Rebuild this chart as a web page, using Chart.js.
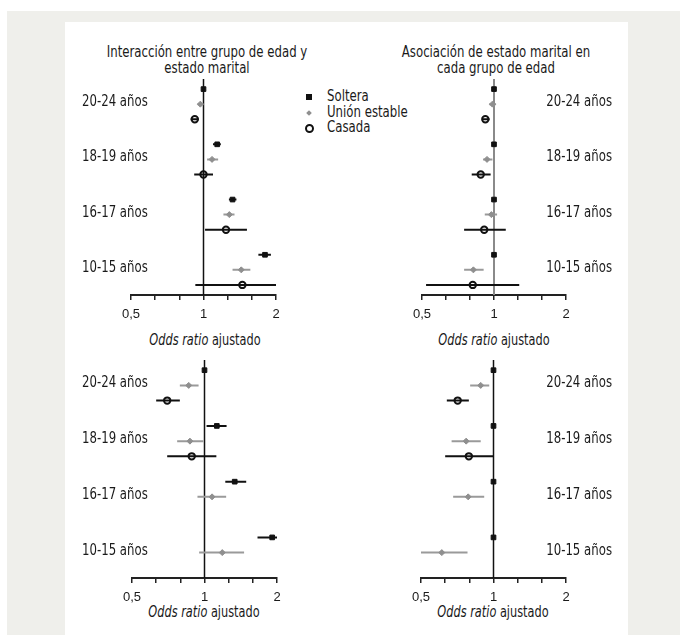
<!DOCTYPE html>
<html>
<head>
<meta charset="utf-8">
<script src="https://cdn.jsdelivr.net/npm/chart.js@4.4.1/dist/chart.umd.min.js"></script>
<style>
html, body { margin: 0; padding: 0; }
body { width: 680px; height: 635px; position: relative; overflow: hidden; background: #fff;
       font-family: 'DejaVu Sans Condensed', 'Liberation Sans Narrow', sans-serif; color: #1a1a1a; }
#outer { position: absolute; left: 7px; top: 11px; right: 0; bottom: 0; background: #efefeb; }
#panel { position: absolute; left: 65px; top: 22px; width: 563px; bottom: 0; background: #fff; }
canvas { position: absolute; left: 0; top: 0; }
.t { position: absolute; font-size: 15px; line-height: 16px; text-align: center; white-space: nowrap;
     transform: translateX(-50%) scaleX(0.87); }
.ax { transform: translateX(-50%) scaleX(0.84); }
#legend { position: absolute; left: 303px; top: 89px; font-size: 15px; line-height: 15.5px; }
#legend div { position: relative; padding-left: 24px; white-space: nowrap; }
#legend b { font-weight: normal; display: inline-block; transform: scaleX(0.87); transform-origin: left center; }
#legend span { position: absolute; }
.sq { left: 3px; top: 5px; width: 6px; height: 6px; background: #111; }
.dm { left: 4px; top: 6px; width: 4px; height: 4px; background: #8f8f8f; transform: rotate(45deg); }
.ci { left: 2px; top: 4px; width: 5px; height: 5px; border: 2px solid #111; border-radius: 50%; }
</style>
</head>
<body>
<div id="outer"></div>
<div id="panel"></div>
<div class="t" style="left:207px;top:44px">Interacción entre grupo de edad y<br>estado marital</div>
<div class="t" style="left:496px;top:44px">Asociación de estado marital en<br>cada grupo de edad</div>
<div class="t ax" style="left:205px;top:332px"><i>Odds ratio</i> ajustado</div>
<div class="t ax" style="left:494px;top:332px"><i>Odds ratio</i> ajustado</div>
<div class="t ax" style="left:204px;top:604px"><i>Odds ratio</i> ajustado</div>
<div class="t ax" style="left:493px;top:604px"><i>Odds ratio</i> ajustado</div>
<div id="legend">
  <div><span class="sq"></span><b>Soltera</b></div>
  <div><span class="dm"></span><b>Unión estable</b></div>
  <div><span class="ci"></span><b>Casada</b></div>
</div>
<canvas id="c1" width="680" height="635"></canvas>
<canvas id="c2" width="680" height="635"></canvas>
<canvas id="c3" width="680" height="635"></canvas>
<canvas id="c4" width="680" height="635"></canvas>
<script>
const groups = ['20-24 años', '18-19 años', '16-17 años', '10-15 años'];
const series = ['Soltera', 'Unión estable', 'Casada'];
const tickValues = [0.5, 1, 2];
const tickLabels = ['0,5', '1', '2'];

// each row: [odds ratio, lower, upper] per age group
const tlSoltera = [[1.00, 1.00, 1.00], [1.14, 1.095, 1.18], [1.32, 1.275, 1.37], [1.80, 1.69, 1.905]];
const tlUnion   = [[0.97, 0.945, 1.00], [1.085, 1.035, 1.15], [1.28, 1.21, 1.345], [1.435, 1.32, 1.565]];
const tlCasada  = [[0.92, 0.885, 0.955], [1.00, 0.915, 1.095], [1.24, 1.015, 1.515], [1.45, 0.925, 2.00]];

const trSoltera = [[1, 1, 1], [1, 1, 1], [1, 1, 1], [1, 1, 1]];
const trUnion   = [[0.985, 0.955, 1.02], [0.935, 0.90, 0.985], [0.975, 0.915, 1.03], [0.82, 0.75, 0.905]];
const trCasada  = [[0.92, 0.897, 0.958], [0.88, 0.807, 0.968], [0.91, 0.75, 1.12], [0.815, 0.52, 1.275]];

const blSoltera = [[1.00, 1.00, 1.00], [1.125, 1.02, 1.235], [1.335, 1.22, 1.49], [1.91, 1.66, 2.00]];
const blUnion   = [[0.86, 0.79, 0.945], [0.87, 0.77, 0.99], [1.075, 0.935, 1.23], [1.185, 0.95, 1.46]];
const blCasada  = [[0.70, 0.63, 0.79], [0.885, 0.70, 1.12], null, null];

const brSoltera = [[1, 1, 1], [1, 1, 1], [1, 1, 1], [1, 1, 1]];
const brUnion   = [[0.885, 0.80, 0.96], [0.77, 0.67, 0.885], [0.785, 0.68, 0.915], [0.61, 0.50, 0.78]];
const brCasada  = [[0.71, 0.64, 0.79], [0.79, 0.63, 1.00], null, null];

const GROUP_STEP = 11 / 3;
const Y_PAD = 0.67;
const AXIS_H = 30;
const W = 680, H = 635;
const NARROW = 0.87;

const seriesStyle = [
    { point: 'rect', radius: 3.3, fill: '#111', border: '#111', bw: 1, line: '#111' },
    { point: 'rectRot', radius: 3, fill: '#8f8f8f', border: '#8f8f8f', bw: 1, line: '#9a9a9a' },
    { point: 'circle', radius: 3.2, fill: 'rgba(0,0,0,0)', border: '#111', bw: 2, line: '#111' }
];

// minor ticks at thirds of each doubling, labels only on 0.5 / 1 / 2
const axisTicks = [];
for (let i = 0; i < tickValues.length - 1; i++) {
    for (let k = 0; k < 3; k++) {
        axisTicks.push(tickValues[i] * Math.pow(tickValues[i + 1] / tickValues[i], k / 3));
    }
}
axisTicks.push(tickValues[tickValues.length - 1]);

function rowPos(g, s) {
    return g * GROUP_STEP + s;
}

const groupLabels = {
    id: 'groupLabels',
    afterDatasetsDraw(chart, args, opts) {
        const { ctx } = chart;
        const y = chart.scales.y;
        ctx.save();
        ctx.font = '15px "DejaVu Sans Condensed", "Liberation Sans Narrow", sans-serif';
        ctx.fillStyle = '#1a1a1a';
        ctx.textAlign = opts.align;
        ctx.textBaseline = 'middle';
        groups.forEach((g, i) => {
            ctx.save();
            ctx.translate(opts.x, y.getPixelForValue(rowPos(i, 1)) - 2);
            ctx.scale(NARROW, 1);
            ctx.fillText(g, 0, 0);
            ctx.restore();
        });
        ctx.restore();
    }
};

function makePanel(p) {
    const datasets = [];

    p.rows.forEach((rows, s) => {
        const st = seriesStyle[s];
        const pts = [];
        const ci = [];
        rows.forEach((r, g) => {
            if (!r) return;
            pts.push({ x: r[0], y: rowPos(g, s) });
            ci.push({ x: r[1], y: rowPos(g, s) }, { x: r[2], y: rowPos(g, s) }, { x: r[0], y: null });
        });
        datasets.push({
            label: series[s],
            data: pts,
            pointStyle: st.point,
            pointRadius: st.radius,
            backgroundColor: st.fill,
            borderColor: st.border,
            borderWidth: st.bw,
            order: 0
        });
        datasets.push({
            label: series[s] + ' IC',
            data: ci,
            showLine: true,
            spanGaps: false,
            borderColor: st.line,
            borderWidth: 2,
            pointRadius: 0,
            order: 1
        });
    });

    datasets.push({
        label: 'ref',
        data: [{ x: 1, y: -Y_PAD }, { x: 1, y: rowPos(3, 2) + Y_PAD }],
        showLine: true,
        borderColor: p.refColor,
        borderWidth: p.refWidth,
        pointRadius: 0,
        order: 2
    });

    new Chart(document.getElementById(p.id), {
        type: 'scatter',
        data: { datasets },
        options: {
            responsive: false,
            animation: false,
            events: [],
            layout: {
                padding: {
                    left: p.area.left,
                    right: W - p.area.right,
                    top: p.area.top,
                    bottom: H - p.area.bottom - AXIS_H
                }
            },
            plugins: {
                legend: { display: false },
                tooltip: { enabled: false },
                groupLabels: { x: p.labelX, align: p.labelAlign }
            },
            scales: {
                x: {
                    type: 'logarithmic',
                    min: tickValues[0],
                    max: tickValues[tickValues.length - 1],
                    afterBuildTicks: scale => { scale.ticks = axisTicks.map(v => ({ value: v })); },
                    afterFit: scale => { scale.height = AXIS_H; },
                    ticks: {
                        autoSkip: false,
                        maxRotation: 0,
                        padding: 7,
                        color: '#1a1a1a',
                        font: { family: '"Liberation Sans", Arial, sans-serif', size: 13 },
                        callback: v => {
                            const i = tickValues.findIndex(t => Math.abs(t - v) < 1e-9);
                            return i >= 0 ? tickLabels[i] : '';
                        }
                    },
                    grid: { drawOnChartArea: false, color: '#222', lineWidth: 1.5, tickLength: 5 },
                    border: { color: '#222', width: 2 }
                },
                y: {
                    type: 'linear',
                    display: false,
                    reverse: true,
                    min: -Y_PAD,
                    max: rowPos(3, 2) + Y_PAD
                }
            }
        },
        plugins: [groupLabels]
    });
}

makePanel({ id: 'c1', area: { left: 131, right: 276, top: 79, bottom: 295 },
    rows: [tlSoltera, tlUnion, tlCasada], refColor: '#111', refWidth: 1.5, labelX: 82, labelAlign: 'left' });
makePanel({ id: 'c2', area: { left: 422, right: 566, top: 79, bottom: 295 },
    rows: [trSoltera, trUnion, trCasada], refColor: '#8a8a8a', refWidth: 2, labelX: 612, labelAlign: 'right' });
makePanel({ id: 'c3', area: { left: 132, right: 277, top: 360, bottom: 578 },
    rows: [blSoltera, blUnion, blCasada], refColor: '#111', refWidth: 1.5, labelX: 82, labelAlign: 'left' });
makePanel({ id: 'c4', area: { left: 421, right: 566, top: 360, bottom: 578 },
    rows: [brSoltera, brUnion, brCasada], refColor: '#111', refWidth: 1.5, labelX: 612, labelAlign: 'right' });
</script>
</body>
</html>
